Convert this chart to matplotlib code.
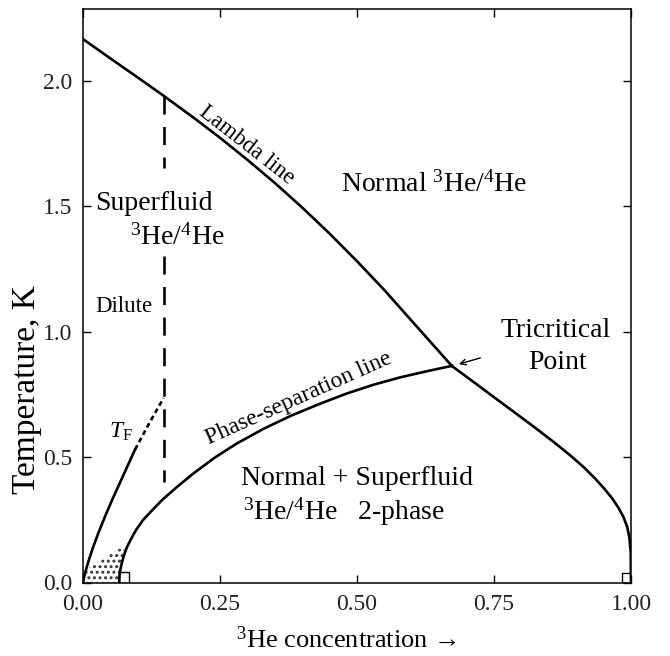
import matplotlib
matplotlib.use("Agg")
import matplotlib.pyplot as plt
from matplotlib.patches import Rectangle, Polygon
from matplotlib.ticker import FormatStrFormatter

plt.rcParams['font.family'] = ['Liberation Serif', 'DejaVu Serif']
plt.rcParams['mathtext.fontset'] = 'custom'
plt.rcParams['mathtext.rm'] = 'Liberation Serif'
plt.rcParams['mathtext.it'] = 'Liberation Serif:italic'
plt.rcParams['lines.scale_dashes'] = False
plt.rcParams['hatch.linewidth'] = 1.4

# lambda line (superfluid transition), from x=0 to the tricritical point
lambda_x = [0.0, 0.05, 0.10, 0.146, 0.20, 0.25, 0.30, 0.35, 0.40, 0.45, 0.50,
            0.55, 0.60, 0.673]
lambda_t = [2.165, 2.088, 2.012, 1.941, 1.855, 1.772, 1.684, 1.592, 1.494, 1.390,
            1.280, 1.165, 1.042, 0.863]

# phase separation line, 4He rich side
sep_left_x = [0.066, 0.0665, 0.068, 0.071, 0.075, 0.080, 0.088, 0.097, 0.110,
              0.125, 0.145, 0.170, 0.20, 0.24, 0.28, 0.33, 0.38, 0.43, 0.48,
              0.53, 0.58, 0.63, 0.673]
sep_left_t = [0.0, 0.025, 0.05, 0.08, 0.11, 0.14, 0.175, 0.21, 0.25,
              0.285, 0.33, 0.378, 0.432, 0.497, 0.553, 0.613, 0.665, 0.71, 0.752,
              0.788, 0.818, 0.843, 0.863]

# phase separation line, 3He rich side
sep_right_x = [0.673, 0.72, 0.77, 0.82, 0.86, 0.89, 0.915, 0.935, 0.952, 0.966,
               0.977, 0.986, 0.993, 0.997, 0.9995, 1.0]
sep_right_t = [0.863, 0.787, 0.706, 0.625, 0.558, 0.505, 0.457, 0.413, 0.372, 0.334,
               0.298, 0.262, 0.222, 0.18, 0.12, 0.0]

# Fermi temperature of the dilute 3He
tf_x = [0.0, 0.004, 0.010, 0.018, 0.028, 0.040, 0.055, 0.070, 0.085, 0.095]
tf_t = [0.0, 0.04, 0.085, 0.138, 0.197, 0.262, 0.338, 0.41, 0.482, 0.53]
tf_dash_x = [0.095, 0.121, 0.147]
tf_dash_t = [0.53, 0.635, 0.735]

# dashed vertical line in the superfluid region
dilute_x = 0.147
dash_upper_t = [1.94, 1.65]
dash_lower_t = [1.30, 0.40]

# stippled corner
stipple_x = [0.0, 0.005, 0.077, 0.071, 0.066]
stipple_t = [0.0, 0.05, 0.15, 0.08, 0.0]

tcp = (0.673, 0.863)

fig = plt.figure(figsize=(6.7, 6.56), dpi=100)
ax = fig.add_axes([83 / 670, 1 - 582.5 / 656, 548 / 670, 573.5 / 656])

lw = 1.9
ax.plot(lambda_x, lambda_t, color='k', lw=lw)
ax.plot(sep_left_x, sep_left_t, color='k', lw=lw)
ax.plot(sep_right_x, sep_right_t, color='k', lw=lw)
ax.plot(tf_x, tf_t, color='k', lw=lw)
ax.plot(tf_dash_x, tf_dash_t, color='k', lw=lw, ls=(0, (3.5, 2.5)))
ax.plot([dilute_x, dilute_x], dash_upper_t, color='k', lw=lw, ls=(0, (13, 9)))
ax.plot([dilute_x, dilute_x], dash_lower_t, color='k', lw=lw, ls=(0, (13, 9)))

ax.add_patch(Polygon(list(zip(stipple_x, stipple_t)), closed=True, facecolor='none',
                     edgecolor='#333333', lw=0, hatch='...'))

# little right-angle boxes at the ends of the phase separation line
ax.add_patch(Rectangle((sep_left_x[0], 0), 0.018, 0.04, fill=False, lw=1.0, ec='k'))
ax.add_patch(Rectangle((sep_right_x[-1] - 0.017, 0), 0.017, 0.038, fill=False, lw=1.0, ec='k'))

ax.annotate('', xy=(tcp[0] + 0.008, tcp[1] + 0.004), xytext=(0.730, 0.898),
            arrowprops=dict(arrowstyle='->', color='k', lw=1.0))

ax.text(0.130, 1.51, 'Superfluid', fontsize=20, ha='center', va='center')
ax.text(0.172, 1.376, r'$^3$He/$^4$He', fontsize=20, ha='center', va='center')
ax.text(0.075, 1.099, 'Dilute', fontsize=16.5, ha='center', va='center')
ax.text(0.070, 0.60, r'$T_{\rm F}$', fontsize=17, ha='center', va='center')
ax.text(0.64, 1.588, r'Normal $^3$He/$^4$He', fontsize=20, ha='center', va='center')
ax.text(0.863, 1.006, 'Tricritical', fontsize=20, ha='center', va='center')
ax.text(0.865, 0.875, 'Point', fontsize=20, ha='center', va='center')
ax.text(0.288, 0.414, 'Normal + Superfluid', fontsize=20, ha='left', va='center')
ax.text(0.292, 0.283, r'$^3$He/$^4$He   2-phase', fontsize=20, ha='left', va='center')
ax.text(0.298, 1.745, 'Lambda line', fontsize=16.5, ha='center', va='center', rotation=-38)
ax.text(0.393, 0.735, 'Phase-separation line', fontsize=17, ha='center', va='center',
        rotation=24)

ax.set_xlim(0, 1)
ax.set_ylim(0, 2.285)
ax.set_xticks([0, 0.25, 0.5, 0.75, 1.0])
ax.set_yticks([0, 0.5, 1.0, 1.5, 2.0])
ax.xaxis.set_major_formatter(FormatStrFormatter('%.2f'))
ax.yaxis.set_major_formatter(FormatStrFormatter('%.1f'))
ax.tick_params(direction='in', length=6, width=1, top=True, right=True,
               labelsize=17, labelcolor='#222222')
ax.tick_params(axis='x', pad=8)
ax.tick_params(axis='y', pad=8)
for s in ax.spines.values():
    s.set_linewidth(1.1)

fig.text(27 / 670, 1 - 390 / 656, 'Temperature, K', fontsize=24, rotation=90,
         ha='center', va='center')
fig.text(346 / 670, 1 - 640 / 656, r'$^3$He concentration →', fontsize=19,
         ha='center', va='center')

fig.savefig('out.png', dpi=100)
